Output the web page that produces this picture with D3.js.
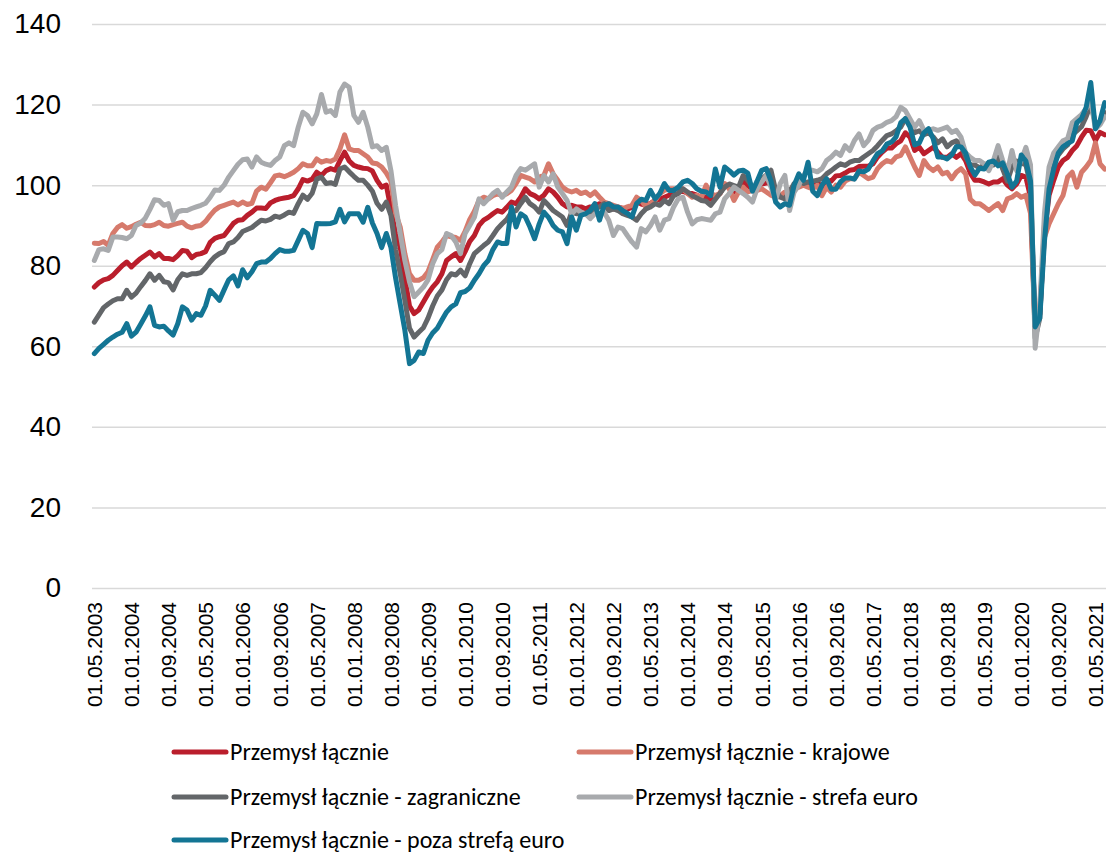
<!DOCTYPE html>
<html>
<head>
<meta charset="utf-8">
<script src="https://cdn.jsdelivr.net/npm/d3@7"></script>
<style>
  body { margin: 0; background: #fff; }
  svg { display: block; font-family: Carlito, Calibri, Lato, sans-serif; }
</style>
</head>
<body>
<svg id="canvas"></svg>
<script>
// monthly data, 01.05.2003 - 01.07.2021
let startMonth = new Date(2003, 4, 1);
let endMonth = new Date(2021, 7, 1);

let tickLabels = [
  "01.05.2003", "01.01.2004", "01.09.2004", "01.05.2005", "01.01.2006", "01.09.2006",
  "01.05.2007", "01.01.2008", "01.09.2008", "01.05.2009", "01.01.2010", "01.09.2010",
  "01.05.2011", "01.01.2012", "01.09.2012", "01.05.2013", "01.01.2014", "01.09.2014",
  "01.05.2015", "01.01.2016", "01.09.2016", "01.05.2017", "01.01.2018", "01.09.2018",
  "01.05.2019", "01.01.2020", "01.09.2020", "01.05.2021"
];
let yTicks = [0, 20, 40, 60, 80, 100, 120, 140];

let seriesNames = [
  "Przemysł łącznie",
  "Przemysł łącznie - krajowe",
  "Przemysł łącznie - zagraniczne",
  "Przemysł łącznie - strefa euro",
  "Przemysł łącznie - poza strefą euro"
];
let seriesColors = ["#BA1E2C", "#D67A6C", "#636669", "#A8AAAD", "#137594"];

let lacznie = [
  74.7,75.8,76.5,76.8,77.6,78.8,80,80.9,79.7,80.8,81.8,82.6,83.4,82.2,83,81.8,81.8,81.5,82.5,83.8,83.6,82,82.8,83,83.5,85.8,86.8,87.2,87.5,89,90.5,91.3,91.4,92.5,93.3,94.3,94.3,94.2,95.6,96.2,96.6,96.8,97,97.4,
  99.1,101.4,101,101.5,103.2,102.4,103.6,104.1,103.7,106.1,108.2,106,104.9,104.5,104.2,104.1,103.5,101.2,99.5,100,94,88,84.6,77,70,68.1,69,71,73,74.7,76,78,81.3,82.2,83,81.3,83.5,86,87.5,90,91.3,92,92.9,93.7,
  93.3,94.5,95.8,95.4,97,99.1,97.9,97.4,96.6,97.5,99.1,98.3,97,95.4,94.6,95,94.6,94.6,94.1,94.6,94.6,95.4,95,94.6,94.1,94.5,94.3,94,94.5,95.8,95.3,95,95.5,96.2,96.5,97,97.5,98,98.3,98.5,98,97.9,97.5,97,
  97,96.5,97,98,100,99.7,98.3,99,101,99.8,99.1,99.3,100.3,100.5,100.6,97.9,97.2,97.5,98.5,99.7,100.3,100.2,100.2,100,100.6,99.6,101.2,101,102.3,102.4,103,103.7,103.9,104.6,104.7,104.7,105.3,107,108.2,109.2,109.2,110.3,111,113,
  111.9,108.6,109.4,107.8,108.6,109.4,108.2,106.9,106.9,107.8,106.9,107.8,106.1,103,101.2,101.2,100.8,100.3,100.8,100.8,101.6,100,99.1,100.3,102.4,102,97,64.5,68,88,97.5,101.2,104.5,106.1,106.9,108.6,109.8,111.9,113.6,113.5,111.1,113.1,112.5
];

let krajowe = [
  85.6,85.5,86,85.1,88,89.5,90.2,89.3,89.7,90.3,90.8,90,89.9,90.2,90.8,90,89.8,90.2,90.5,90.8,89.8,89.4,89.8,90,91,92.5,93.8,94.6,95,95.4,95.8,95.1,95.8,95.2,95.5,98.5,99.5,99,100.6,102.3,102.5,102.1,102.6,103.2,
  104.1,105.3,104.8,104.8,106.5,105.7,106.1,105.9,106.5,109,112.5,109,108.6,108.6,107.8,107,105.5,105.3,104.5,103,101,93,89.6,83,78,76.4,76.4,77,78.5,81.5,84.6,85.9,87.5,87.2,87,86.3,88.5,91.5,93.5,96.2,97,96.6,97.4,97.8,
  97.4,97.9,98.7,100.4,102.4,102,101.6,100.8,102,102.4,105.3,102.8,101.2,99.5,98.7,98.3,98.7,97.9,98.3,97.4,98.3,97,95.8,95.4,95,94.6,94.1,94.6,95,97,96.2,94.6,95.4,96.2,97.9,98.7,99.1,99.1,98.7,99.1,97.9,97,97.5,97,
  100,97.9,97.4,97.9,100.4,99.1,96.2,98.3,99.5,98.3,98.7,98.7,99.1,98.3,97.5,97,97.4,98.3,98.7,99.1,99.5,100,99.5,99.1,100,97.4,99.5,98.3,100,99.5,101,101.6,101.6,103.2,102.4,101.6,102,104.1,105.3,106.1,105.7,107,107.4,109.5,
  107,104.5,102.4,106.1,104.5,103.6,104.5,102.8,103.2,101.6,103.2,104.1,102.8,96.5,95.4,95.4,94.6,93.7,94.6,95.4,93.7,96.6,97,97.9,97,97.5,93,64,70,87,90.4,92.9,95.4,97.4,102,103.2,99.5,103.2,104.5,106.1,110.5,105.3,104
];

let zagraniczne = [
  66,67.8,69.6,70.5,71.3,71.8,71.8,73.9,72.2,73.2,74.8,76.3,78,76.4,77.6,76,75.8,74,76.5,78,77.6,78,78,78.3,79.5,81,82.2,83,83.5,85.5,85.9,87,88.5,89,89.5,90.4,91.3,91.1,91.5,92.3,92,92.6,93.3,93,
  95.4,97.5,96.5,98,101.5,102,100.4,100.6,100.2,104,104.5,103.3,102.2,101.2,101.2,100,98.5,95.5,94,95.8,92.5,84,78,71.4,64.5,62.3,63.5,64.6,67,70,72.5,74,76.5,78,77.7,78.9,77.5,80.5,83,84,85,85.9,87.5,89.2,
  90.4,91.5,93.3,93.7,95.4,97,95.4,94.6,93.3,96.2,95,93.7,92.9,92.1,90,93.3,92.9,92.9,93,93.3,94,94.6,95.4,93.7,94.1,93.7,92.9,92.5,92.1,91.3,92.9,94.1,94.6,95.4,95,96.2,95.4,97.4,97.9,99.1,98.3,97.4,96.8,96.2,
  96,95,96.5,98,99.5,100.3,99.9,99.5,102.4,101.2,99.5,100,101.5,102.5,103.7,98.7,97,96.6,98.3,100.4,101.2,100.4,100.8,101,101.2,101.6,102.8,103.6,104.5,105.3,104.9,105.7,106.1,106.1,107,107.8,108.6,109.8,111.1,112.3,112.7,113.5,114.4,116.5,
  116,113,113.5,112.5,113,112,110.5,111.5,109.5,110.5,111,110,107,105,105,104.3,105,105.5,105,107,104,101,104.5,106,105.5,105,100,62,67,90,102,105.5,107.5,109,110,112.5,113.5,114.5,117,120,115.5,115.5,118
];

let strefaEuro = [
  81.3,84,84.2,83.8,87.1,87.1,87,86.7,87.5,90,90.6,91.8,94,96.4,96.2,95,95.4,91.3,93.4,93.7,93.7,94.2,94.6,95,95.5,97,98.8,98.7,100,102,103.6,105.2,106.3,106.5,104.5,107,105.7,105.2,104.9,106.1,107,109.8,110.5,109.8,
  114.4,118.1,117.3,115.2,117.7,122.5,118.1,118.5,117.3,123.1,125.1,124.3,117.3,115.6,118.1,114.4,109.5,109.8,108.6,109.4,103.6,95,88,81.3,76,72.3,73.5,74.7,76.5,80.5,83,84,88,87.5,85.9,83,88,90,92,96.6,95.4,96.6,97.9,98.7,
  97,98.3,99.5,102.4,104.1,103.7,104.5,105.3,99.5,102.4,100.8,102.8,99.5,97.9,96.2,92.9,94.1,93.3,92.9,91.7,92.9,92.9,93.3,91.3,87.5,89.6,89.2,87.5,85.9,84.6,89.2,88.4,90,92.1,88.8,91.3,91.7,94.6,96.6,97,93.3,90.4,91.4,91.7,
  91.5,91.3,92.9,93.3,96.6,97.9,99.5,98.7,97.9,97,95.8,99.1,100.8,102.4,99.5,96.2,100.4,102.4,93.7,98.3,100,102.4,103.7,103.7,103.3,104.1,106.1,107,108.2,107.4,109.8,108.6,111.1,112.7,109.8,111.1,113.6,114.4,114.8,115.6,116,117,119.3,118.5,
  116.4,114.4,116,113.6,113.6,114,113.6,114,114.4,113.1,113.6,111.9,108,106.9,106.1,106.1,105.3,103.6,106.1,109.8,106.1,103.2,108.6,103.6,106.1,109.4,105,59.5,70,93,104.5,108,109.5,111,111.5,115.5,116.5,117.5,119,121,114,115,117
];

let pozaStrefa = [
  58.2,59.5,60.5,61.5,62.3,63,63.5,65.6,62.5,63.5,65.5,67.5,69.8,65.2,64.8,65,63.8,62.8,65.6,69.8,69,66.5,68.1,67.7,70,73.9,72.7,71.4,74,76.5,77.5,75,79,77,78.5,80.5,80.9,80.9,81.8,83,84,83.6,83.6,83.8,
  86.3,88.8,88,84.5,90.5,90.4,90.4,90.5,90.9,94,90.9,92.9,92.9,92.9,90.8,94.5,90.6,88,84.5,88,84.5,77,70.5,64,55.7,56.5,58.6,58.2,61.5,63.3,64.5,66.5,68.5,69.8,70.5,73.3,73.6,74.5,76.4,78,80,81.3,84,85.9,
  85.5,85.5,94.6,89.6,92.9,92.1,89.6,86.7,90.4,93.3,92,90,88.8,88.4,85.5,92.1,88.8,92.5,92.9,93.7,95.4,91.3,95,95.4,94.6,94.6,93.7,93,92.1,95.4,96.5,96.2,98.7,96.6,97.9,100.4,98.7,98.7,99.5,100.8,101.2,100.4,99.1,98.5,
  98.3,97.4,104,99.5,104.5,103.6,102.5,103.5,103.7,103,98.5,101,103.7,104.1,101,95.8,94.6,95.4,95,100,102.8,101.2,105.7,98.5,97.4,100,101.6,99,99,100.8,101.8,101.8,101.5,103.5,103.3,104,106,107.8,108.5,110.2,110.7,112,115.5,116.5,
  114.4,110,110.5,113,114,111.5,107,107,106.5,107.5,109.6,109.5,108,104.5,102.5,104.2,104,105.7,106,104.8,105.5,102.8,99.5,101,107.5,106,101,64.8,67,86,99,104,108,109.5,110.3,111,115.5,116.5,119.3,125.5,114,116,120.5
];

let allSeries = [lacznie, krajowe, zagraniczne, strefaEuro, pozaStrefa];

let width = 1106;
let height = 853;
let plotLeft = 92;
let plotRight = 1107;
let plotTop = 24;
let plotBottom = 588;

let fmt = d3.timeFormat("%d.%m.%Y");
let months = d3.timeMonth.range(startMonth, endMonth).map(fmt);

let canvas = d3.select("#canvas").attr("width", width).attr("height", height);

let xScale = d3.scalePoint().domain(months).range([plotLeft, plotRight]).padding(0.5);
let yScale = d3.scaleLinear().domain([0, 140]).range([plotBottom, plotTop]);

// gridlines + y labels
let yAxis = d3.axisLeft(yScale)
  .tickValues(yTicks)
  .tickSize(-(plotRight - plotLeft))
  .tickPadding(31)
  .tickFormat(d3.format("d"));

let yG = canvas.append("g")
  .attr("transform", "translate(" + plotLeft + ",0)")
  .call(yAxis);
yG.select(".domain").remove();
yG.selectAll("line").attr("stroke", "#D9D9D9").attr("stroke-width", 1.5);
yG.selectAll("text")
  .attr("fill", "#000")
  .style("font-size", "28px")
  .style("font-family", "inherit");

// x labels
let xAxis = d3.axisBottom(xScale).tickValues(tickLabels).tickSize(0).tickPadding(0);
let xG = canvas.append("g")
  .attr("transform", "translate(0," + plotBottom + ")")
  .call(xAxis);
xG.select(".domain").remove();
xG.selectAll("text")
  .attr("fill", "#000")
  .style("font-size", "21px")
  .style("font-family", "inherit")
  .attr("text-anchor", "end")
  .attr("transform", "translate(0,14) rotate(-90)")
  .attr("x", 0)
  .attr("y", 0)
  .attr("dy", "0.35em");

// lines
let line = d3.line()
  .x((d, i) => xScale(months[i]))
  .y((d) => yScale(d));

allSeries.forEach((values, k) => {
  canvas.append("path")
    .datum(values)
    .attr("d", line)
    .attr("fill", "none")
    .attr("stroke", seriesColors[k])
    .attr("stroke-width", 5)
    .attr("stroke-linejoin", "round")
    .attr("stroke-linecap", "round");
});

// legend
let legendPos = [[172, 752], [577, 752], [172, 797], [577, 797], [172, 840]];
let legend = canvas.append("g");
seriesNames.forEach((name, k) => {
  let g = legend.append("g").attr("transform", "translate(" + legendPos[k][0] + "," + legendPos[k][1] + ")");
  g.append("line")
    .attr("x1", 2).attr("x2", 54)
    .attr("stroke", seriesColors[k])
    .attr("stroke-width", 5)
    .attr("stroke-linecap", "round");
  g.append("text")
    .attr("x", 58)
    .attr("dy", "0.35em")
    .style("font-size", "24px")
    .text(name);
});
</script>
</body>
</html>
